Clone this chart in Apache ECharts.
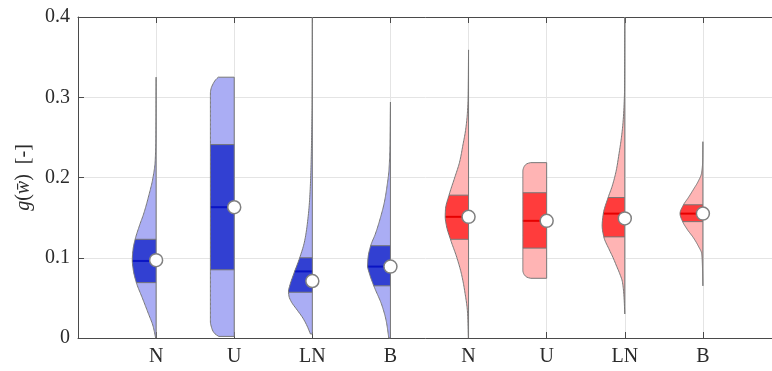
<!DOCTYPE html>
<html>
<head>
<meta charset="utf-8">
<script src="https://cdn.jsdelivr.net/npm/echarts@6/dist/echarts.min.js"></script>
<style>
  html, body { margin: 0; padding: 0; background: #ffffff; }
  #chart { width: 772px; height: 371px; }
</style>
</head>
<body>
<div id="chart"></div>
<script>
// Distributions, in plotting order
const categories = ['N', 'U', 'LN', 'B', 'N', 'U', 'LN', 'B'];
const groups = ['blue', 'blue', 'blue', 'blue', 'red', 'red', 'red', 'red'];

// Summary statistics of g(w̄)
const lowerQuartiles = [0.069, 0.085, 0.057, 0.065, 0.123, 0.112, 0.126, 0.145];
const medians        = [0.096, 0.163, 0.083, 0.089, 0.151, 0.146, 0.155, 0.155];
const upperQuartiles = [0.123, 0.241, 0.100, 0.115, 0.178, 0.181, 0.175, 0.166];
const means          = [0.097, 0.163, 0.071, 0.089, 0.151, 0.146, 0.149, 0.155];

// Kernel density outlines: [g value, relative half-width]
const densityBlueN = [[0, 0.02], [0.015, 0.13], [0.03, 0.32], [0.05, 0.58], [0.069, 0.83], [0.085, 0.96], [0.097, 1.0], [0.11, 0.97], [0.123, 0.88], [0.14, 0.7], [0.155, 0.52], [0.175, 0.33], [0.2, 0.13], [0.22, 0.04], [0.25, 0.01], [0.325, 0]];
const densityBlueU = [[0.002, 0.65], [0.005, 0.8], [0.009, 0.9], [0.014, 0.96], [0.02, 1.0], [0.305, 1.0], [0.311, 0.97], [0.316, 0.9], [0.321, 0.8], [0.325, 0.67]];
const densityBlueLN = [[0.005, 0.08], [0.015, 0.22], [0.025, 0.4], [0.035, 0.64], [0.045, 0.88], [0.052, 0.98], [0.058, 1.0], [0.065, 0.95], [0.08, 0.78], [0.1, 0.53], [0.12, 0.33], [0.14, 0.22], [0.17, 0.12], [0.2, 0.07], [0.25, 0.03], [0.3, 0.01], [0.4, 0]];
const densityBlueB = [[0, 0.07], [0.02, 0.17], [0.04, 0.35], [0.065, 0.7], [0.08, 0.88], [0.09, 0.96], [0.1, 0.94], [0.115, 0.83], [0.13, 0.63], [0.15, 0.42], [0.17, 0.25], [0.19, 0.14], [0.21, 0.06], [0.24, 0.02], [0.294, 0]];
const densityRedN = [[0, 0.01], [0.03, 0.04], [0.06, 0.17], [0.08, 0.3], [0.1, 0.49], [0.123, 0.76], [0.14, 0.93], [0.151, 0.98], [0.16, 0.97], [0.178, 0.82], [0.2, 0.58], [0.22, 0.37], [0.24, 0.24], [0.26, 0.12], [0.28, 0.05], [0.3, 0.02], [0.359, 0]];
const densityRedU = [[0.0744, 0.67], [0.0754, 0.8], [0.0774, 0.9], [0.0805, 0.97], [0.084, 1.0], [0.208, 1.0], [0.212, 0.97], [0.2155, 0.9], [0.2175, 0.8], [0.2185, 0.67]];
const densityRedLN = [[0.03, 0], [0.05, 0.03], [0.07, 0.1], [0.08, 0.21], [0.09, 0.35], [0.1, 0.49], [0.11, 0.65], [0.126, 0.88], [0.14, 0.95], [0.155, 0.9], [0.175, 0.7], [0.19, 0.52], [0.21, 0.35], [0.23, 0.24], [0.25, 0.14], [0.27, 0.07], [0.29, 0.03], [0.31, 0.01], [0.4, 0]];
const densityRedB = [[0.065, 0], [0.09, 0.02], [0.105, 0.05], [0.115, 0.2], [0.125, 0.4], [0.135, 0.65], [0.145, 0.85], [0.155, 0.96], [0.1657, 0.82], [0.175, 0.61], [0.185, 0.4], [0.195, 0.2], [0.205, 0.06], [0.22, 0.01], [0.2446, 0]];

const densities = [densityBlueN, densityBlueU, densityBlueLN, densityBlueB,
                   densityRedN, densityRedU, densityRedLN, densityRedB];

const yTicks = [0, 0.1, 0.2, 0.3, 0.4];

// Styling
const palette = {
  blue: { light: '#aaadf4', dark: '#3240d2', median: '#0a14c4' },
  red:  { light: '#ffb4b4', dark: '#ff3c3c', median: '#e60000' }
};
const HALF_WIDTH = 0.305;      // widest half-violin, in category units
const OUTLINE = '#777777';
const SERIF = "'Liberation Serif', 'DejaVu Serif', serif";
const TEXT = '#2b2b2b';

// Shape-preserving cubic through the outline points
function monotoneCurve(xs, ys) {
  const n = xs.length, h = [], d = [], m = new Array(n);
  for (let k = 0; k < n - 1; k++) { h[k] = xs[k + 1] - xs[k]; d[k] = (ys[k + 1] - ys[k]) / h[k]; }
  m[0] = d[0]; m[n - 1] = d[n - 2];
  for (let k = 1; k < n - 1; k++) {
    if (d[k - 1] * d[k] <= 0) m[k] = 0;
    else {
      const w1 = 2 * h[k] + h[k - 1], w2 = h[k] + 2 * h[k - 1];
      m[k] = (w1 + w2) / (w1 / d[k - 1] + w2 / d[k]);
    }
  }
  return function (x) {
    let k = 0;
    while (k < n - 2 && x > xs[k + 1]) k++;
    const t = (x - xs[k]) / h[k], t2 = t * t, t3 = t2 * t;
    return (2 * t3 - 3 * t2 + 1) * ys[k] + (t3 - 2 * t2 + t) * h[k] * m[k] +
           (-2 * t3 + 3 * t2) * ys[k + 1] + (t3 - t2) * h[k] * m[k + 1];
  };
}

function renderViolin(params, api) {
  const i = params.dataIndex;
  const pos = api.value(0);
  const prof = densities[i];
  const vs = prof.map(p => p[0]);
  const ws = prof.map(p => p[1]);
  const width = monotoneCurve(vs, ws);
  const lo = vs[0], hi = vs[vs.length - 1];
  const colors = palette[groups[i]];

  const xr = api.coord([pos, 0])[0];
  const yAt = v => api.coord([pos, v])[1];
  const edge = v => api.coord([pos - Math.max(0, width(v)) * HALF_WIDTH, v]);
  const edgeRun = (a, b, steps) => {
    const pts = [];
    for (let k = 0; k <= steps; k++) pts.push(edge(a + (b - a) * k / steps));
    return pts;
  };

  const body = edgeRun(lo, hi, 200);
  body.push([xr, yAt(hi)], [xr, yAt(lo)]);

  const q1 = lowerQuartiles[i], q3 = upperQuartiles[i], med = medians[i];
  const box = edgeRun(q1, q3, 80);
  box.push([xr, yAt(q3)], [xr, yAt(q1)]);

  const hLine = (v, stroke, lw) => ({
    type: 'line',
    shape: { x1: edge(v)[0], y1: yAt(v), x2: xr, y2: yAt(v) },
    style: { stroke: stroke, lineWidth: lw }
  });

  return {
    type: 'group',
    children: [
      { type: 'polygon', shape: { points: body }, style: { fill: colors.light, stroke: null } },
      { type: 'polygon', shape: { points: box }, style: { fill: colors.dark, stroke: null } },
      hLine(q1, OUTLINE, 1),
      hLine(q3, OUTLINE, 1),
      hLine(med, colors.median, 2),
      { type: 'polygon', shape: { points: body }, style: { fill: null, stroke: OUTLINE, lineWidth: 1 } },
      {
        type: 'circle',
        shape: { cx: xr, cy: yAt(means[i]), r: 6.5 },
        style: { fill: '#ffffff', stroke: '#808080', lineWidth: 1.5 }
      }
    ]
  };
}

const chart = echarts.init(document.getElementById('chart'), null, { renderer: 'canvas' });

const axisColor = '#4a4a4a';
const gridColor = '#e4e4e4';

chart.setOption({
  animation: false,
  // the axes box runs on past the right edge of the canvas
  grid: { left: 78, top: 17, width: 703, height: 321, outerBoundsMode: 'none', containLabel: false },
  xAxis: [
    {
      type: 'value', min: 0, max: 9, interval: 1, position: 'bottom',
      axisLine: { show: true, onZero: false, lineStyle: { color: axisColor, width: 1 } },
      axisTick: { show: true, inside: true, length: 6, lineStyle: { color: axisColor } },
      axisLabel: {
        margin: 9, color: TEXT, fontFamily: SERIF, fontSize: 20,
        formatter: v => (v >= 1 && v <= categories.length) ? categories[v - 1] : ''
      },
      splitLine: { show: true, lineStyle: { color: gridColor, width: 1 } }
    },
    {
      type: 'value', min: 0, max: 9, interval: 1, position: 'top',
      axisLine: { show: true, onZero: false, lineStyle: { color: axisColor, width: 1 } },
      axisTick: { show: true, inside: true, length: 6, lineStyle: { color: axisColor } },
      axisLabel: { show: false },
      splitLine: { show: false }
    }
  ],
  yAxis: {
    type: 'value', min: yTicks[0], max: yTicks[yTicks.length - 1], interval: 0.1,
    axisLine: { show: true, onZero: false, lineStyle: { color: axisColor, width: 1 } },
    axisTick: { show: true, inside: true, length: 6, lineStyle: { color: axisColor } },
    axisLabel: {
      margin: 8, color: TEXT, fontFamily: SERIF, fontSize: 20,
      formatter: v => (v === 0 ? '0' : v.toFixed(1))
    },
    splitLine: { show: true, lineStyle: { color: gridColor, width: 1 } },
    name: '{i|g}{r|(}{i|w\u0304}{r|)}   {r|[-]}',
    nameLocation: 'middle',
    nameRotate: 90,
    nameGap: 37,
    nameTextStyle: {
      rich: {
        i: { fontFamily: SERIF, fontStyle: 'italic', fontSize: 20, color: TEXT },
        r: { fontFamily: SERIF, fontSize: 20, color: TEXT }
      }
    }
  },
  series: [{
    type: 'custom',
    renderItem: renderViolin,
    clip: false,
    xAxisIndex: 0,
    yAxisIndex: 0,
    encode: { x: 0, y: 1 },
    data: categories.map((c, i) => [i + 1, medians[i]])
  }]
});
</script>
</body>
</html>
